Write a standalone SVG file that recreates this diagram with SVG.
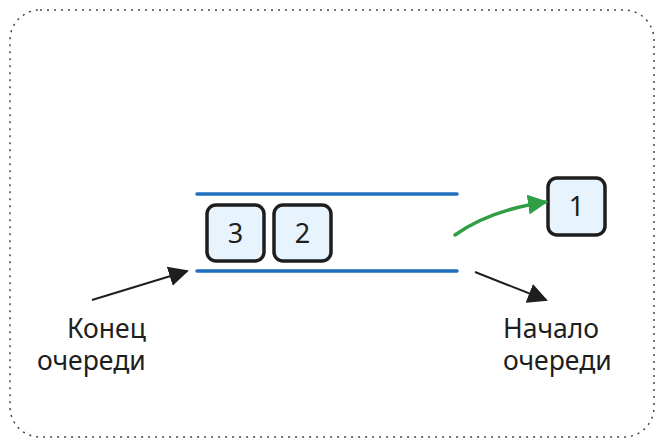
<svg xmlns="http://www.w3.org/2000/svg" width="664" height="447" viewBox="0 0 664 447">
<defs>
<style>
.lane{stroke:#1f6fbf;stroke-width:3.5;stroke-linecap:round;fill:none}
.item rect{fill:#e7f4fd;stroke:#1e1e1e;stroke-width:3.5}
.item text{font-family:"Noto Sans","DejaVu Sans",sans-serif;font-size:27px;fill:#1e1e1e;text-anchor:middle}
.lbl{font-family:"Noto Sans","DejaVu Sans",sans-serif;font-size:26.5px;fill:#1e1e1e}
.arr{stroke:#1e1e1e;stroke-width:2;fill:none}
</style>
<marker id="ahb" viewBox="0 0 10 10" refX="9" refY="5" markerWidth="20" markerHeight="20" markerUnits="userSpaceOnUse" orient="auto"><path d="M0,0 L10,5 L0,10 z" fill="#1e1e1e"/></marker>
<marker id="ahg" viewBox="0 0 10 10" refX="9" refY="5" markerWidth="20" markerHeight="20" markerUnits="userSpaceOnUse" orient="auto"><path d="M0,0 L10,5 L0,10 z" fill="#2f9e44"/></marker>
</defs>
<rect x="10" y="10" width="644" height="427" rx="30" fill="none" stroke="#444" stroke-width="1.5" stroke-dasharray="2 5"/>
<g id="queue">
<line class="lane" x1="197" y1="194" x2="457" y2="194"/>
<line class="lane" x1="197" y1="271" x2="457" y2="271"/>
</g>
<g id="item3" class="item"><rect x="207" y="205" width="57" height="56" rx="9"/><text x="235.5" y="243">3</text></g>
<g id="item2" class="item"><rect x="274" y="205" width="57" height="56" rx="9"/><text x="302.5" y="243">2</text></g>
<g id="item1" class="item"><rect x="548" y="178" width="57" height="57" rx="9"/><text x="576.5" y="216">1</text></g>
<g id="tail-label"><text class="lbl" x="67" y="338">Конец</text><text class="lbl" x="37" y="370">очереди</text></g>
<g id="head-label"><text class="lbl" x="503" y="338">Начало</text><text class="lbl" x="503" y="370">очереди</text></g>
<g id="connectors">
<path d="M455,235 Q490,210 546,202" stroke="#2f9e44" stroke-width="3.5" fill="none" stroke-linecap="round" marker-end="url(#ahg)"/>
<line class="arr" x1="92" y1="300" x2="187" y2="271" marker-end="url(#ahb)"/>
<line class="arr" x1="475" y1="272" x2="546" y2="300" marker-end="url(#ahb)"/>
</g>
</svg>
